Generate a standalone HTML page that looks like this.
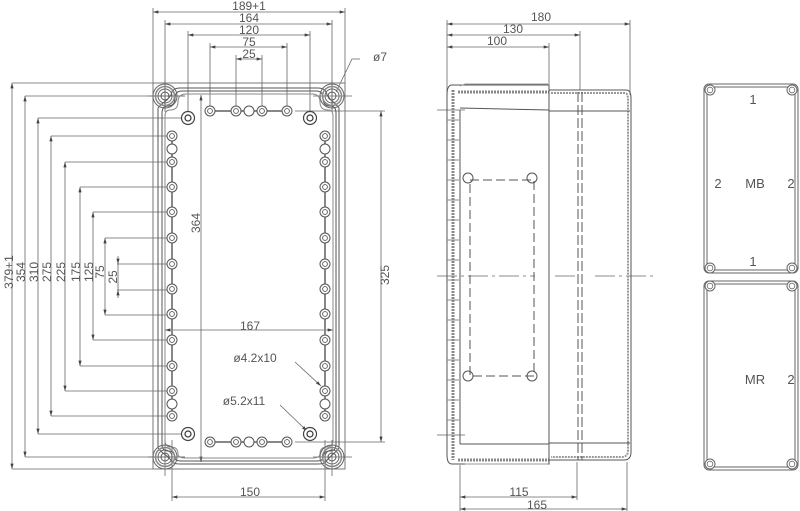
<!DOCTYPE html>
<html><head><meta charset="utf-8"><style>
html,body{margin:0;padding:0;background:#fff;}
svg{display:block;}
text{font-family:"Liberation Sans",sans-serif;font-size:12px;fill:#555;}
</style></head><body>
<svg width="800" height="511" viewBox="0 0 800 511" xmlns="http://www.w3.org/2000/svg">
<defs>
<marker id="a" viewBox="0 0 10 6" refX="10" refY="3" markerWidth="7" markerHeight="4" orient="auto-start-reverse"><path d="M0,0L10,3L0,6z" fill="#444"/></marker>
<g id="h"><circle r="5" fill="#fff" stroke="#555" stroke-width="1"/><circle r="2.4" fill="none" stroke="#555" stroke-width="0.9"/></g>
<g id="e"><circle r="5" fill="#fff" stroke="#555" stroke-width="1"/></g>
<g id="b"><circle r="6.5" fill="#fff" stroke="#444" stroke-width="1.2"/><circle r="3" fill="none" stroke="#333" stroke-width="1.2"/></g>
<g id="c"><circle r="12" fill="none" stroke="#666" stroke-width="1"/><circle r="9.5" fill="none" stroke="#888" stroke-width="1.5"/><circle r="7" fill="none" stroke="#666" stroke-width="1"/><circle r="4" fill="none" stroke="#555" stroke-width="1"/></g>
<g id="pc"><circle r="5" fill="#fff" stroke="#666" stroke-width="1"/><circle r="2.8" fill="none" stroke="#666" stroke-width="0.8"/></g>
</defs>
<g stroke="#666" stroke-width="0.8" fill="none">
<line x1="153" y1="12" x2="345" y2="12" marker-start="url(#a)" marker-end="url(#a)"/>
<line x1="165" y1="24" x2="332" y2="24" marker-start="url(#a)" marker-end="url(#a)"/>
<line x1="188" y1="35" x2="310" y2="35" marker-start="url(#a)" marker-end="url(#a)"/>
<line x1="210" y1="47" x2="287" y2="47" marker-start="url(#a)" marker-end="url(#a)"/>
<line x1="236" y1="59" x2="262" y2="59" marker-start="url(#a)" marker-end="url(#a)"/>
<path d="M153 8V185M345 8V185M165 20V110M332 20V110M188 31V118M310 31V118M210 43V111M287 43V111M236 55V111M262 55V111"/>
<line x1="12" y1="83" x2="12" y2="469" marker-start="url(#a)" marker-end="url(#a)"/>
<line x1="25" y1="96" x2="25" y2="457" marker-start="url(#a)" marker-end="url(#a)"/>
<line x1="38" y1="118" x2="38" y2="434" marker-start="url(#a)" marker-end="url(#a)"/>
<line x1="51" y1="136" x2="51" y2="416" marker-start="url(#a)" marker-end="url(#a)"/>
<line x1="65" y1="162" x2="65" y2="391" marker-start="url(#a)" marker-end="url(#a)"/>
<line x1="80" y1="187" x2="80" y2="366" marker-start="url(#a)" marker-end="url(#a)"/>
<line x1="93" y1="212" x2="93" y2="340" marker-start="url(#a)" marker-end="url(#a)"/>
<line x1="105" y1="238" x2="105" y2="315" marker-start="url(#a)" marker-end="url(#a)"/>
<line x1="118" y1="256" x2="118" y2="264" marker-end="url(#a)"/>
<line x1="118" y1="298" x2="118" y2="290" marker-end="url(#a)"/>
<line x1="118" y1="264" x2="118" y2="290"/>
<path d="M12 83H153M25 96H185M38 118H188M51 136H172M65 162H172M80 187H172M93 212H172M105 238H172M117 264H172M117 290H172M105 315H172M93 340H172M80 366H172M65 391H172M51 416H172M38 434H188M25 457H185M12 469H153"/>
<line x1="201" y1="95" x2="201" y2="462" marker-start="url(#a)" marker-end="url(#a)"/>
<line x1="381" y1="111" x2="381" y2="442" marker-start="url(#a)" marker-end="url(#a)"/>
<path d="M295 111H385M295 442H385"/>
<line x1="165" y1="330" x2="333" y2="330" marker-start="url(#a)" marker-end="url(#a)"/>
<line x1="172" y1="497" x2="325" y2="497" marker-start="url(#a)" marker-end="url(#a)"/>
<path d="M172 440V501M325 440V501"/>
<path d="M360 59H352L336 92"/>
<line x1="295" y1="362" x2="321" y2="386" marker-end="url(#a)"/>
<line x1="280" y1="405" x2="307" y2="431" marker-end="url(#a)"/>
<path d="M148 96H185M313 96H352M165 80V112M332 80V112M148 457H185M313 457H352M165 440V476M332 440V476"/>
</g>
<g fill="none" stroke="#555" stroke-width="1">
<path d="M153 83H345V469H153Z" stroke="#777"/>
<path d="M180 88H318Q326 88 327 95L331 100Q336 104 339 108V448Q336 452 331 456L327 460Q326 464 318 464H180Q172 464 171 460L167 456Q161 452 158 448V108Q161 104 167 100L171 95Q172 88 180 88Z"/>
<path d="M182 91H316Q323 91 323 98Q323 106 330 106Q336 106 336 113V444Q336 451 330 451Q323 451 323 458Q323 461 316 461H182Q175 461 175 458Q175 451 168 451Q162 451 162 444V113Q162 106 168 106Q175 106 175 98Q175 91 182 91Z"/>
<path d="M186 94H312Q320 94 320 102Q320 110 328 110Q333 110 333 116V440Q333 447 327 447Q320 447 320 454Q320 458 312 458H186Q178 458 178 454Q178 447 171 447Q165 447 165 440V116Q165 110 170 110Q178 110 178 102Q178 94 186 94Z" stroke="#888"/>
<path d="M172 136V416M325 136V416M210 111H287M210 442H287" stroke="#888" stroke-width="2"/>
</g>
<use href="#c" x="165" y="96"/><use href="#c" x="332" y="96"/><use href="#c" x="165" y="457"/><use href="#c" x="332" y="457"/>
<g>
<use href="#h" x="172" y="136"/><use href="#e" x="172" y="149"/><use href="#h" x="172" y="162"/><use href="#h" x="172" y="187"/><use href="#h" x="172" y="212"/><use href="#h" x="172" y="238"/><use href="#h" x="172" y="264"/><use href="#h" x="172" y="289"/><use href="#h" x="172" y="314"/><use href="#h" x="172" y="340"/><use href="#h" x="172" y="366"/><use href="#h" x="172" y="391"/><use href="#e" x="172" y="404"/><use href="#h" x="172" y="416"/>
<use href="#h" x="325" y="136"/><use href="#e" x="325" y="149"/><use href="#h" x="325" y="162"/><use href="#h" x="325" y="187"/><use href="#h" x="325" y="212"/><use href="#h" x="325" y="238"/><use href="#h" x="325" y="264"/><use href="#h" x="325" y="289"/><use href="#h" x="325" y="314"/><use href="#h" x="325" y="340"/><use href="#h" x="325" y="366"/><use href="#h" x="325" y="391"/><use href="#e" x="325" y="404"/><use href="#h" x="325" y="416"/>
<use href="#h" x="210" y="111"/><use href="#h" x="236" y="111"/><use href="#e" x="249" y="111"/><use href="#h" x="262" y="111"/><use href="#h" x="287" y="111"/>
<use href="#h" x="210" y="442"/><use href="#h" x="236" y="442"/><use href="#e" x="249" y="442"/><use href="#h" x="262" y="442"/><use href="#h" x="287" y="442"/>
<use href="#b" x="188" y="118"/><use href="#b" x="310" y="118"/><use href="#b" x="188" y="434"/><use href="#b" x="310" y="434"/>
</g>
<text x="249" y="10" text-anchor="middle">189+1</text>
<text x="249" y="22" text-anchor="middle">164</text>
<text x="249" y="34" text-anchor="middle">120</text>
<text x="249" y="46" text-anchor="middle">75</text>
<text x="249" y="58" text-anchor="middle">25</text>
<text x="380" y="61" text-anchor="middle">ø7</text>
<text x="250" y="330" text-anchor="middle">167</text>
<text x="250" y="496" text-anchor="middle">150</text>
<text x="255" y="362" text-anchor="middle">ø4.2x10</text>
<text x="244" y="405" text-anchor="middle">ø5.2x11</text>
<g>
<text transform="translate(13,272) rotate(-90)" text-anchor="middle">379+1</text>
<text transform="translate(25,272) rotate(-90)" text-anchor="middle">354</text>
<text transform="translate(38,272) rotate(-90)" text-anchor="middle">310</text>
<text transform="translate(51,272) rotate(-90)" text-anchor="middle">275</text>
<text transform="translate(65,272) rotate(-90)" text-anchor="middle">225</text>
<text transform="translate(80,272) rotate(-90)" text-anchor="middle">175</text>
<text transform="translate(93,272) rotate(-90)" text-anchor="middle">125</text>
<text transform="translate(104,272) rotate(-90)" text-anchor="middle">75</text>
<text transform="translate(117,277) rotate(-90)" text-anchor="middle">25</text>
<text transform="translate(200,223) rotate(-90)" text-anchor="middle">364</text>
<text transform="translate(389,275) rotate(-90)" text-anchor="middle">325</text>
</g>
<g stroke="#666" stroke-width="0.8" fill="none">
<line x1="447" y1="24" x2="630" y2="24" marker-start="url(#a)" marker-end="url(#a)"/>
<line x1="447" y1="35" x2="580" y2="35" marker-start="url(#a)" marker-end="url(#a)"/>
<line x1="447" y1="47" x2="549" y2="47" marker-start="url(#a)" marker-end="url(#a)"/>
<path d="M447 20V108M630 20V95M580 31V90M549 43V85"/>
<line x1="460" y1="497" x2="577" y2="497" marker-start="url(#a)" marker-end="url(#a)"/>
<line x1="460" y1="509" x2="627" y2="509" marker-start="url(#a)" marker-end="url(#a)"/>
<path d="M460 465V511M577 462V500M627 462V511"/>
<path d="M437 276H535M555 276H575M595 276H655" stroke-dasharray="20 4 3 4"/>
<path d="M437 110H465M437 435H465"/>
</g>
<g fill="none" stroke="#555" stroke-width="1">
<path d="M452 85H549V464H452Q447 464 447 455V95Q447 85 452 85Z"/>
<path d="M458 92H549M458 460H549M453 90V460" stroke="#888" stroke-width="3" stroke-dasharray="2 1"/>
<path d="M460 108L549 110M460 444H549M460 110V444"/>
<path d="M549 90H626Q631 90 631 98V452Q631 460 624 460H549"/>
<path d="M551 93H625Q628 93 628 100V450Q628 457 622 457H551" stroke="#999" stroke-width="2" stroke-dasharray="2 1"/>
<path d="M549 111H630M549 443H630M549 85V464"/>
<path d="M578 92V460M582 92V460" stroke-dasharray="10 3"/>
<path d="M470 180H534V376H470Z" stroke-dasharray="9 4"/>
<circle cx="468" cy="178" r="5"/><circle cx="532" cy="178" r="5"/><circle cx="468" cy="376" r="5"/><circle cx="532" cy="376" r="5"/>
<path d="M447 120H459M447 140H459M447 160H459M447 180H459M447 200H459M447 220H459M447 240H459M447 260H459M447 280H459M447 300H459M447 320H459M447 340H459M447 360H459M447 380H459M447 400H459M447 420H459" stroke="#888"/>
<path d="M460 86L465 84H548M465 464H548" stroke="#999"/>
</g>
<text x="541" y="21" text-anchor="middle">180</text>
<text x="513" y="33" text-anchor="middle">130</text>
<text x="497" y="45" text-anchor="middle">100</text>
<text x="519" y="496" text-anchor="middle">115</text>
<text x="537" y="509" text-anchor="middle">165</text>
<g fill="none" stroke="#666" stroke-width="1">
<rect x="704" y="84" width="94" height="189" rx="5"/>
<rect x="707" y="87" width="88" height="183" rx="4"/>
<rect x="704" y="281" width="94" height="189" rx="5"/>
<rect x="707" y="284" width="88" height="183" rx="4"/>
</g>
<use href="#pc" x="710" y="90"/><use href="#pc" x="792" y="90"/><use href="#pc" x="710" y="268"/><use href="#pc" x="792" y="268"/>
<use href="#pc" x="710" y="286"/><use href="#pc" x="792" y="286"/><use href="#pc" x="710" y="464"/><use href="#pc" x="792" y="464"/>
<text x="753" y="104" text-anchor="middle" style="font-size:13px">1</text>
<text x="718" y="188" text-anchor="middle" style="font-size:13px">2</text>
<text x="755" y="188" text-anchor="middle" style="font-size:13px">MB</text>
<text x="791" y="188" text-anchor="middle" style="font-size:13px">2</text>
<text x="753" y="266" text-anchor="middle" style="font-size:13px">1</text>
<text x="755" y="384" text-anchor="middle" style="font-size:13px">MR</text>
<text x="791" y="384" text-anchor="middle" style="font-size:13px">2</text>
</svg>
</body></html>
